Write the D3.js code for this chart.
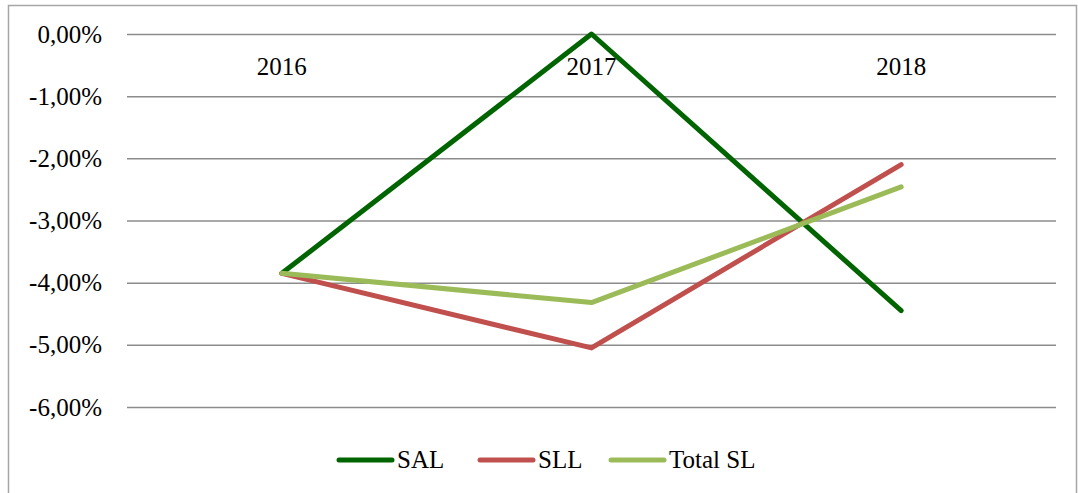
<!DOCTYPE html>
<html>
<head>
<meta charset="utf-8">
<script src="https://cdn.jsdelivr.net/npm/d3@7"></script>
<style>
  body { margin: 0; background: #fff; }
</style>
</head>
<body>
<svg width="1078" height="493"></svg>
<script>
var years = ["2016", "2017", "2018"];
var sal = [-3.85, 0.00, -4.45];
var sll = [-3.85, -5.05, -2.10];
var totalSl = [-3.85, -4.32, -2.46];
var yTicks = [0, -1, -2, -3, -4, -5, -6];

var series = [
  {name: "SAL", values: sal, color: "#006400"},
  {name: "SLL", values: sll, color: "#C0504D"},
  {name: "Total SL", values: totalSl, color: "#9BBB59"}
];

var serif = "Liberation Serif";
var fontSize = 25;

var svg = d3.select("svg");
var margin = {top: 34, left: 127, right: 22};
var width = 1078 - margin.left - margin.right,
    height = 407 - margin.top;

// chart frame
svg.append("rect")
    .attr("x", 8.5).attr("y", 5.5)
    .attr("width", 1068).attr("height", 500)
    .attr("fill", "none")
    .attr("stroke", "#a6a6a6")
    .attr("stroke-width", 1.5);

var g = svg.append("g")
    .attr("transform", "translate(" + margin.left + "," + margin.top + ")");

var x = d3.scaleBand().domain(years).range([0, width]);
var y = d3.scaleLinear().domain([0, -6]).range([0, height]);

var fmt = function(d) {
  return (d < 0 ? "-" : "") + d3.format(".2f")(Math.abs(d)).replace(".", ",") + "%";
};

var yAxis = d3.axisLeft(y).tickValues(yTicks).tickSize(-width).tickPadding(25).tickFormat(fmt);
g.append("g")
    .attr("class", "axis axis--y")
    .call(yAxis)
    .attr("font-family", serif)
    .attr("font-size", fontSize)
    .call(function(s) {
      s.select(".domain").remove();
      s.selectAll(".tick line").attr("stroke", "#8c8c8c").attr("stroke-width", 1.5);
      s.selectAll(".tick text").attr("fill", "#000");
    });

// category labels sit just below the zero line
g.selectAll(".cat")
    .data(years)
  .enter().append("text")
    .attr("class", "cat")
    .attr("x", function(d) { return x(d) + x.bandwidth() / 2; })
    .attr("y", y(-0.66))
    .attr("text-anchor", "middle")
    .attr("font-family", serif)
    .attr("font-size", fontSize)
    .text(function(d) { return d; });

var line = d3.line()
    .x(function(d, i) { return x(years[i]) + x.bandwidth() / 2; })
    .y(function(d) { return y(d); });

g.selectAll(".series")
    .data(series)
  .enter().append("path")
    .attr("class", "series")
    .attr("fill", "none")
    .attr("stroke", function(d) { return d.color; })
    .attr("stroke-width", 5)
    .attr("stroke-linejoin", "round")
    .attr("stroke-linecap", "round")
    .attr("d", function(d) { return line(d.values); });

// legend
var legendX = [337, 478, 609];
var legend = svg.append("g").attr("class", "legend");
var items = legend.selectAll(".item")
    .data(series)
  .enter().append("g")
    .attr("class", "item")
    .attr("transform", function(d, i) { return "translate(" + legendX[i] + ",460)"; });

items.append("line")
    .attr("x1", 2).attr("x2", 55)
    .attr("stroke", function(d) { return d.color; })
    .attr("stroke-width", 5)
    .attr("stroke-linecap", "round");

items.append("text")
    .attr("x", 60)
    .attr("y", 8)
    .attr("font-family", serif)
    .attr("font-size", fontSize)
    .text(function(d) { return d.name; });
</script>
</body>
</html>
